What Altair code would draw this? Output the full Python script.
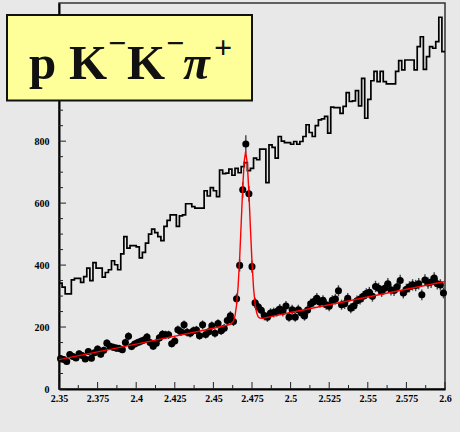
import altair as alt
import pandas as pd

# ---- values ----
BIN_START = 2.35
BIN_WIDTH = 0.002

# wrong-sign histogram (125 bins, 2 MeV each)
HIST = [342, 329, 307, 307, 352, 357, 357, 344, 363, 390,
        350, 408, 390, 390, 361, 376, 385, 414, 401, 385,
        436, 492, 455, 463, 463, 459, 423, 441, 471, 500,
        516, 505, 492, 479, 525, 544, 562, 562, 525, 559,
        562, 598, 598, 589, 584, 584, 584, 640, 623, 650,
        640, 621, 707, 695, 697, 710, 690, 712, 698, 718,
        731, 705, 712, 745, 740, 774, 774, 666, 788, 780,
        745, 815, 800, 795, 795, 790, 799, 790, 799, 815,
        853, 828, 815, 850, 869, 872, 880, 826, 910, 908,
        908, 890, 912, 957, 928, 930, 963, 914, 1003, 874,
        935, 995, 1025, 992, 1025, 992, 985, 985, 985, 1025,
        1060, 1030, 1062, 1062, 1062, 1030, 1105, 1137, 1032, 1073,
        1105, 1100, 1121, 1200, 1089]

# right-sign data points (125 bins)
DATA = [98, 95, 89, 111, 105, 100, 114, 108, 97, 121,
        99, 117, 129, 112, 125, 148, 138, 135, 132, 131,
        127, 150, 170, 137, 145, 150, 154, 158, 168, 150,
        138, 148, 165, 177, 175, 175, 146, 155, 191, 185,
        207, 183, 180, 188, 190, 172, 207, 176, 185, 204,
        180, 211, 188, 196, 221, 236, 218, 291, 399, 643,
        791, 630, 395, 278, 265, 254, 237, 232, 245, 247,
        250, 258, 250, 268, 232, 256, 232, 256, 245, 236,
        255, 275, 282, 293, 280, 286, 272, 267, 286, 290,
        317, 272, 275, 293, 261, 268, 285, 290, 299, 308,
        312, 299, 331, 325, 315, 325, 340, 320, 318, 330,
        350, 310, 322, 330, 336, 334, 340, 304, 352, 342,
        345, 358, 340, 336, 310]

# fitted curve (red)
FIT_X = [2.35, 2.40, 2.45, 2.458, 2.461, 2.463, 2.464, 2.465, 2.466, 2.467,
         2.468, 2.469, 2.470, 2.4709, 2.472, 2.473, 2.474, 2.475, 2.476,
         2.477, 2.478, 2.479, 2.480, 2.482, 2.50, 2.55, 2.60]
FIT_Y = [95, 145, 196, 205, 209, 219, 236, 271, 331, 421,
         535, 651, 737, 766, 726, 633, 517, 409, 326,
         274, 246, 233, 229, 228, 247, 297, 347]

X_MAJOR = [2.35, 2.375, 2.4, 2.425, 2.45, 2.475, 2.5, 2.525, 2.55, 2.575, 2.6]
X_MINOR = [2.3625, 2.3875, 2.4125, 2.4375, 2.4625, 2.4875, 2.5125, 2.5375, 2.5625, 2.5875]
Y_LABELS = [0, 200, 400, 600, 800]          # 1000 / 1200 sit behind the title box
Y_MAJOR = [0, 200, 400, 600, 800, 1000, 1200]
Y_MINOR = [50, 100, 150, 250, 300, 350, 450, 500, 550, 650, 700, 750,
           850, 900, 950, 1050, 1100, 1150]

W, H = 386, 386
FONT = "Liberation Serif"

hist_df = pd.DataFrame({
    "x": [BIN_START + BIN_WIDTH * k for k in range(len(HIST))] + [BIN_START + BIN_WIDTH * len(HIST)],
    "y": HIST + [HIST[-1]],
})
pts_df = pd.DataFrame({
    "x": [BIN_START + BIN_WIDTH * (k + 0.5) for k in range(len(DATA))],
    "y": DATA,
})
fit_df = pd.DataFrame({"x": FIT_X, "y": FIT_Y})

xs = alt.Scale(domain=[2.35, 2.6], nice=False, zero=False)
ys = alt.Scale(domain=[0, 1246], nice=False)

X_AXIS = alt.Axis(values=X_MAJOR, format=".3~f", ticks=False, grid=False, title=None,
                  domainColor="black", domainWidth=2, labelFont=FONT, labelFontWeight="bold",
                  labelFontSize=10, labelColor="black", labelPadding=4, labelFlush=False)
Y_AXIS = alt.Axis(values=Y_LABELS, format="d", ticks=False, grid=False, title=None,
                  domainColor="black", domainWidth=2, labelFont=FONT, labelFontWeight="bold",
                  labelFontSize=10, labelColor="black", labelPadding=10)

def X(field="x"):
    return alt.X(f"{field}:Q", scale=xs, axis=X_AXIS)

def Y(field="y"):
    return alt.Y(f"{field}:Q", scale=ys, axis=Y_AXIS)

hist = alt.Chart(hist_df).mark_line(interpolate="step-after", color="black",
                                     strokeWidth=1.7).encode(x=X(), y=Y())

errs = alt.Chart(pts_df).transform_calculate(
    lo="datum.y - sqrt(datum.y)", hi="datum.y + sqrt(datum.y)"
).mark_rule(color="#444", strokeWidth=1.4).encode(x=X(), y=Y("lo"), y2="hi:Q")

pts = alt.Chart(pts_df).mark_circle(color="black", opacity=1, size=50).encode(x=X(), y=Y())

fit = alt.Chart(fit_df).mark_line(color="#ff0000", strokeWidth=1.4).encode(x=X(), y=Y())

xmaj = alt.Chart(pd.DataFrame({"x": X_MAJOR})).mark_rule(color="#222", strokeWidth=1).encode(
    x=X(), y=alt.value(H), y2=alt.value(H - 7))
xmin = alt.Chart(pd.DataFrame({"x": X_MINOR})).mark_rule(color="#222", strokeWidth=1).encode(
    x=X(), y=alt.value(H), y2=alt.value(H - 4))
ymaj = alt.Chart(pd.DataFrame({"y": Y_MAJOR})).mark_rule(color="#222", strokeWidth=1).encode(
    y=Y(), x=alt.value(0), x2=alt.value(7))
ymin = alt.Chart(pd.DataFrame({"y": Y_MINOR})).mark_rule(color="#222", strokeWidth=1).encode(
    y=Y(), x=alt.value(0), x2=alt.value(4))

one = alt.Data(values=[{"a": 1}])
box = alt.Chart(one).mark_rect(fill="#ffff99", stroke="#111", strokeWidth=2).encode(
    x=alt.value(-52), x2=alt.value(193), y=alt.value(12), y2=alt.value(97.5))

def txt(s, x, y, size, style="normal"):
    return alt.Chart(one).mark_text(text=s, font=FONT, fontWeight="bold", fontSize=size,
                                    fontStyle=style, align="left", baseline="alphabetic",
                                    color="#111").encode(x=alt.value(x), y=alt.value(y))

label = [
    txt("p", -30, 76, 49),
    txt("K", 10, 76, 49),
    txt("\u2212", 49, 51, 32),
    txt("K", 68, 76, 49),
    txt("\u2212", 107, 51, 32),
    txt("\u03c0", 124, 76, 49, "italic"),
    txt("+", 155, 55, 32),
]

chart = alt.layer(hist, errs, pts, fit, xmaj, xmin, ymaj, ymin, box, *label).properties(
    width=W, height=H,
    autosize=alt.AutoSizeParams(type="none"),
    padding={"left": 59, "top": 3, "right": 15, "bottom": 43},
    background="#e8e8e8",
).configure_view(stroke="#333", strokeWidth=1.5, fill="#e8e8e8")

chart.save("out.html", embed_options={"renderer": "svg", "actions": False})
